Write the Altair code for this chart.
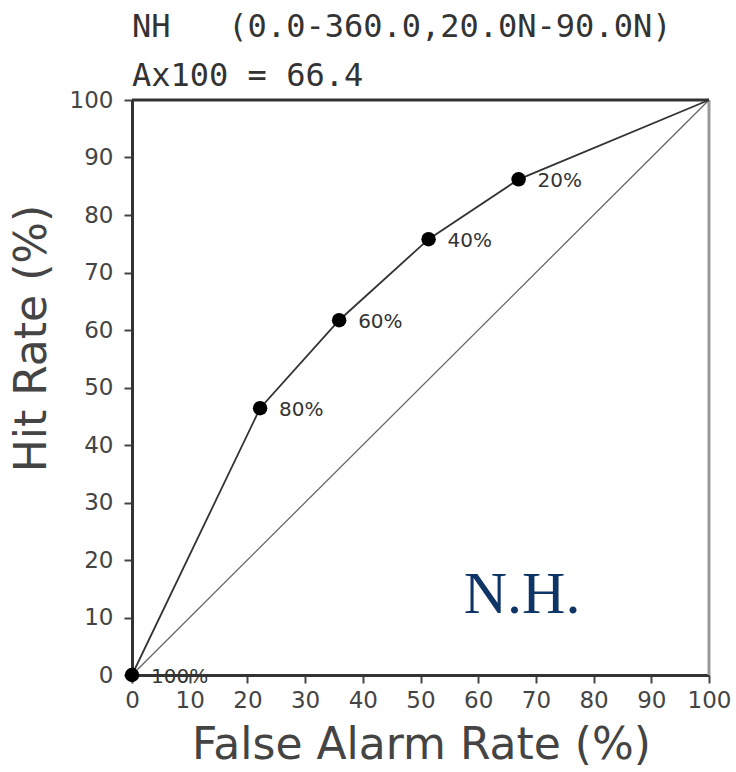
import altair as alt
import pandas as pd

# ROC curve data
far = [0.0, 22.2, 35.9, 51.4, 67.0, 100.0]        # False Alarm Rate (%)
hit = [0.0, 46.4, 61.7, 75.8, 86.2, 100.0]        # Hit Rate (%)
thresholds = ["100%", "80%", "60%", "40%", "20%", ""]
has_marker = [True, True, True, True, True, False]

diag_x = [0, 100]
diag_y = [0, 100]

ticks = [0, 10, 20, 30, 40, 50, 60, 70, 80, 90, 100]

region_label = ["N.H."]
region_x = [67.6]
region_y = [10.8]

curve = pd.DataFrame({"far": far, "hit": hit, "lab": thresholds, "m": has_marker})
pts = curve[curve["m"]]
diag = pd.DataFrame({"far": diag_x, "hit": diag_y})
reg = pd.DataFrame({"t": region_label, "far": region_x, "hit": region_y})

FONT = "DejaVu Sans"
GRAY = "#444444"

xs = alt.Scale(domain=[0, 100], nice=False, zero=False)
ys = alt.Scale(domain=[0, 100], nice=False, zero=False)

xax = alt.Axis(values=ticks, title="False Alarm Rate (%)", grid=False,
               domainColor="#333333", domainWidth=3, tickColor="#444444",
               tickSize=8, tickWidth=2, labelFontSize=23, labelColor=GRAY,
               labelFont=FONT, labelPadding=6, titleFont=FONT, titleFontSize=44,
               titleFontWeight="normal", titleColor="#444444", titleX=289, titleY=70,
               titleBaseline="middle", titleAlign="center", labelFlush=False)
yax = alt.Axis(values=ticks, title="Hit Rate (%)", grid=False,
               domainColor="#333333", domainWidth=3, tickColor="#444444",
               tickSize=8, tickWidth=2, labelFontSize=23, labelColor=GRAY,
               labelFont=FONT, labelPadding=11, titleFont=FONT, titleFontSize=44,
               titleFontWeight="normal", titleColor="#444444", titleX=-100, titleY=238,
               titleAngle=270, titleBaseline="middle", titleAlign="center", labelFlush=False)

base_x = alt.X("far:Q", scale=xs, axis=xax)
base_y = alt.Y("hit:Q", scale=ys, axis=yax)

diag_line = alt.Chart(diag).mark_line(color="#666666", strokeWidth=1.3).encode(
    x=base_x, y=base_y)

roc_line = alt.Chart(curve).mark_line(color="#333333", strokeWidth=1.8).encode(
    x=alt.X("far:Q", scale=xs), y=alt.Y("hit:Q", scale=ys), order="far:Q")

markers = alt.Chart(pts).mark_circle(color="black", opacity=1, size=210).encode(
    x=alt.X("far:Q", scale=xs), y=alt.Y("hit:Q", scale=ys))

labels = alt.Chart(pts).mark_text(align="left", baseline="middle", dx=19, dy=2,
                                  fontSize=20, font=FONT, color="#333333").encode(
    x=alt.X("far:Q", scale=xs), y=alt.Y("hit:Q", scale=ys), text="lab:N")

region = alt.Chart(reg).mark_text(align="center", baseline="alphabetic",
                                  fontSize=60, font="Liberation Serif",
                                  color="#0f3566").encode(
    x=alt.X("far:Q", scale=xs), y=alt.Y("hit:Q", scale=ys), text="t:N")

top_border = alt.Chart(pd.DataFrame({"hit": [100]})).mark_rule(
    color="#333333", strokeWidth=3).encode(y=alt.Y("hit:Q", scale=ys))

right_border = alt.Chart(pd.DataFrame({"far": [100]})).mark_rule(
    color="#999999", strokeWidth=3).encode(x=alt.X("far:Q", scale=xs))

chart = alt.layer(diag_line, roc_line, markers, labels, region, right_border,
                  top_border).properties(
    width=577, height=575,
    title=alt.TitleParams(
        text="NH\u00a0\u00a0\u00a0(0.0-360.0,20.0N-90.0N)",
        subtitle="Ax100 = 66.4",
        anchor="start", frame="group", offset=-4,
        font="DejaVu Sans Mono", fontSize=32, fontWeight="normal", color="#333333",
        subtitleFont="DejaVu Sans Mono", subtitleFontSize=32, subtitleColor="#333333",
        subtitlePadding=17),
    autosize=alt.AutoSizeParams(type="none"),
    padding={"left": 132, "top": 100, "right": 27, "bottom": 97},
).configure_view(stroke=None).configure(background="white")

chart.save("out.html", embed_options={"renderer": "svg", "actions": False})
